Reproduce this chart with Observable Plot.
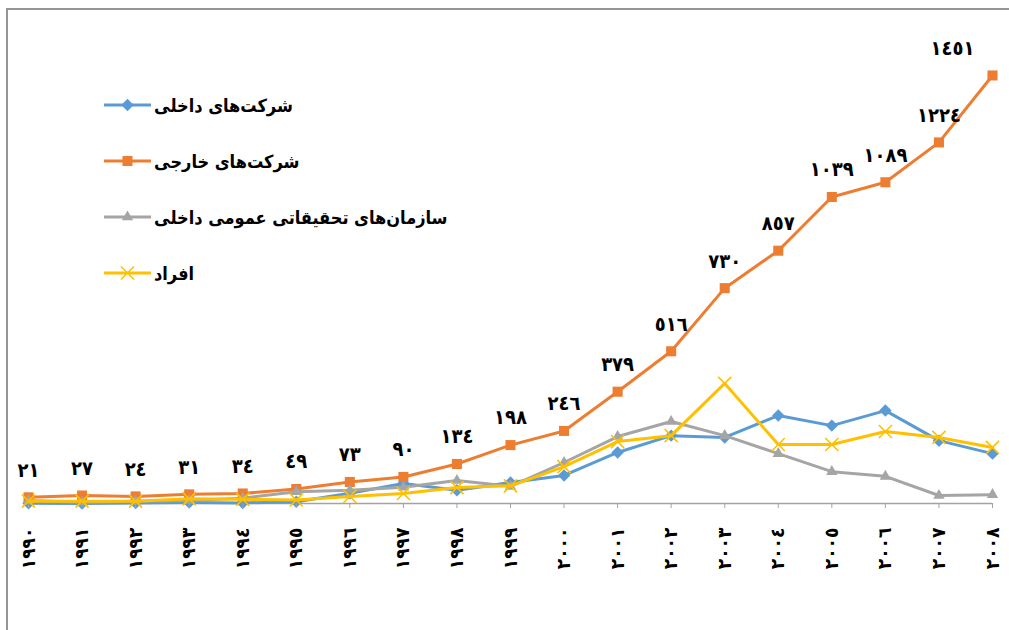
<!DOCTYPE html>
<html>
<head>
<meta charset="utf-8">
<script src="https://cdn.jsdelivr.net/npm/d3@7"></script>
<script src="https://cdn.jsdelivr.net/npm/@observablehq/plot@0.6"></script>
<style>
  html, body { margin: 0; padding: 0; background: #fff; overflow: hidden; }
  #wrap { position: relative; width: 1009px; height: 630px; font-family: "DejaVu Sans Condensed", "DejaVu Sans", sans-serif; }
  #frame { position: absolute; left: 6px; top: 8px; width: 1100px; height: 700px; border: 2px solid #959595; box-sizing: border-box; pointer-events: none; }
  #chart { position: absolute; left: 0; top: 0; }
  #legend { position: absolute; left: 104px; top: 77px; }
  .item { display: flex; align-items: center; height: 56px; }
  .item svg { display: block; }
  .item span { font-weight: bold; font-size: 18px; color: #000; margin-left: 3px; direction: rtl; unicode-bidi: embed; white-space: nowrap; }
</style>
</head>
<body>
<div id="wrap">
  <div id="frame"></div>
  <div id="chart"></div>
  <div id="legend"></div>
</div>
<script>
// ---- data ----
const years = [1990, 1991, 1992, 1993, 1994, 1995, 1996, 1997, 1998, 1999, 2000, 2001, 2002, 2003, 2004, 2005, 2006, 2007, 2008];
const domesticCompanies = [1, 0, 2, 3, 2, 6, 35, 68, 45, 71, 95, 173, 230, 224, 298, 264, 315, 213, 169];
const foreignCompanies = [21, 27, 24, 31, 34, 49, 73, 90, 134, 198, 246, 379, 516, 730, 857, 1039, 1089, 1224, 1451];
const publicResearch = [10, 4, 8, 10, 18, 40, 45, 55, 78, 58, 139, 227, 278, 230, 169, 108, 92, 27, 30];
const individuals = [8, 8, 8, 16, 14, 12, 24, 34, 54, 60, 125, 210, 230, 407, 200, 200, 244, 224, 190];
const seriesNames = ["شرکت‌های داخلی", "شرکت‌های خارجی", "سازمان‌های تحقیقاتی عمومی داخلی", "افراد"];
const seriesColors = ["#5B9BD5", "#ED7D31", "#A5A5A5", "#FFC000"];
const seriesSymbols = ["diamond2", "square2", "triangle2", "times"];
const seriesValues = [domesticCompanies, foreignCompanies, publicResearch, individuals];

const arabicDigits = "٠١٢٣٤٥٦٧٨٩";
const toArabic = v => String(v).replace(/\d/g, d => arabicDigits[d]);

const series = seriesNames.map((name, k) => ({
  name, color: seriesColors[k], symbol: seriesSymbols[k],
  rows: years.map((year, i) => ({year, value: seriesValues[k][i]}))
}));
const symbolR = {diamond2: 5.6, square2: 6.4, triangle2: 5.4, times: 6.0};
const font = "DejaVu Sans Condensed, DejaVu Sans, sans-serif";

const marks = [Plot.ruleY([0], {stroke: "#a3a3a3", strokeWidth: 1.5})];
for (const s of series) {
  marks.push(Plot.line(s.rows, {x: "year", y: "value", stroke: s.color, strokeWidth: 3}));
  if (s.symbol === "times") {
    marks.push(Plot.dot(s.rows, {x: "year", y: "value", symbol: "times", r: symbolR.times, stroke: s.color, strokeWidth: 1.6}));
  } else {
    marks.push(Plot.dot(s.rows, {x: "year", y: "value", symbol: s.symbol, r: symbolR[s.symbol], fill: s.color, stroke: null}));
  }
}
const fRows = series[1].rows;
marks.push(Plot.text(fRows.slice(0, -1), {x: "year", y: "value", text: d => toArabic(d.value), dy: -27, fontSize: 20, fontWeight: "bold", fill: "#000"}));
marks.push(Plot.text(fRows.slice(-1), {x: "year", y: "value", text: d => toArabic(d.value), dy: -27, dx: -40, fontSize: 20, fontWeight: "bold", fill: "#000"}));
marks.push(Plot.axisX({
  ticks: years, tickFormat: d => toArabic(d), tickRotate: -90, tickSize: 5, tickPadding: 19,
  fontSize: 19, fontWeight: "bold", stroke: "#a3a3a3", fill: "#000", label: null
}));

const chart = Plot.plot({
  width: 1009, height: 630,
  marginLeft: 28, marginRight: 17, marginTop: 31, marginBottom: 127,
  x: {domain: [1990, 2008], axis: null},
  y: {domain: [0, 1600], axis: null},
  style: {fontFamily: font, background: "transparent"},
  marks
});
document.getElementById("chart").appendChild(chart);

// ---- legend ----
const legend = document.getElementById("legend");
for (const s of series) {
  const item = document.createElement("div");
  item.className = "item";
  const svg = d3.create("svg").attr("width", 47).attr("height", 18);
  svg.append("line").attr("x1", 0).attr("x2", 47).attr("y1", 9).attr("y2", 9).attr("stroke", s.color).attr("stroke-width", 3);
  const sym = {diamond2: d3.symbolDiamond2, square2: d3.symbolSquare2, triangle2: d3.symbolTriangle2, times: d3.symbolTimes}[s.symbol];
  const r = symbolR[s.symbol];
  const p = svg.append("path").attr("transform", "translate(23.5,9)").attr("d", d3.symbol(sym, Math.PI * r * r)());
  if (s.symbol === "times") p.attr("fill", "none").attr("stroke", s.color).attr("stroke-width", 1.6);
  else p.attr("fill", s.color);
  item.appendChild(svg.node());
  const t = document.createElement("span");
  t.textContent = s.name;
  item.appendChild(t);
  legend.appendChild(item);
}
</script>
</body>
</html>
